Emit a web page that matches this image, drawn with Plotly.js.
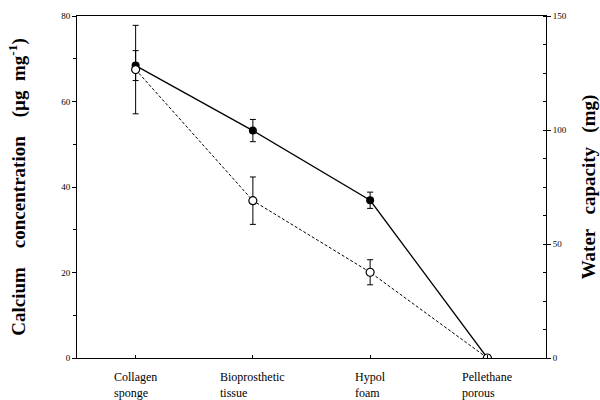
<!DOCTYPE html>
<html><head><meta charset="utf-8">
<script src="https://cdn.plot.ly/plotly-3.0.1.min.js"></script>
<style>body{margin:0;background:#fff}#c{width:600px;height:400px}</style>
</head><body><div id="c"></div>
<script>
const categories = ["Collagen<br>sponge", "Bioprosthetic<br>tissue", "Hypol<br>foam", "Pellethane<br>porous"];
const calcium = [68.4, 53.2, 36.9, 0];
const calciumErr = [3.5, 2.6, 1.9, 0];
const water = [126.5, 69.0, 37.6, 0];
const waterErr = [19.4, 10.4, 5.5, 0];
const leftTicks = [0, 20, 40, 60, 80];
const rightTicks = [0, 50, 100, 150];

const xi = categories.map((_, i) => i);
const serif = "Liberation Serif";

const traces = [
  {x: xi, y: calcium, yaxis: 'y', type: 'scatter', mode: 'lines+markers',
   line: {color: '#000', width: 1.3},
   marker: {symbol: 'circle', size: 8, color: '#000'},
   error_y: {type: 'data', array: calciumErr, visible: true, color: '#000', thickness: 1, width: 3}},
  {x: xi, y: water, yaxis: 'y2', type: 'scatter', mode: 'lines+markers',
   line: {color: '#000', width: 1, dash: '3px,2px'},
   marker: {symbol: 'circle', size: 8, color: '#fff', line: {color: '#000', width: 1.2}},
   error_y: {type: 'data', array: waterErr, visible: true, color: '#000', thickness: 1, width: 3}}
];

const annotations = categories.map((c, i) => ({
  x: i, y: 0, xref: 'x', yref: 'paper', yanchor: 'top', xanchor: 'center',
  yshift: -10, text: c, showarrow: false, align: 'left',
  font: {family: serif, size: 12, color: '#000'}
}));

const layout = {
  width: 600, height: 400,
  margin: {l: 77, r: 54, t: 16, b: 42},
  paper_bgcolor: '#fff', plot_bgcolor: '#fff',
  showlegend: false,
  font: {family: serif, color: '#000'},
  xaxis: {range: [-0.5, 3.5], tickvals: xi, showticklabels: false,
    ticks: 'inside', ticklen: 3, tickcolor: '#000', showgrid: false, zeroline: false,
    showline: true, linecolor: '#000', linewidth: 1, mirror: true},
  yaxis: {range: [0, 80], tickvals: leftTicks, ticktext: leftTicks.map(String),
    ticks: 'outside', ticklen: 4, tickcolor: '#000', showgrid: false, zeroline: false,
    showline: true, linecolor: '#000', linewidth: 1,
    minor: {dtick: 10, ticks: 'outside', ticklen: 3, tickcolor: '#000'},
    tickfont: {family: serif, size: 9, color: '#000'},
    title: {text: 'Calcium\u00a0\u00a0\u00a0 concentration\u00a0\u00a0\u00a0 (\u00b5g\u00a0 mg<sup>-1</sup>)',
      font: {family: serif, size: 19, color: '#000', weight: 'bold'}, standoff: 30}},
  yaxis2: {range: [0, 150], tickvals: rightTicks, ticktext: rightTicks.map(String),
    overlaying: 'y', side: 'right',
    ticks: 'outside', ticklen: 4, tickcolor: '#000', showgrid: false, zeroline: false,
    showline: true, linecolor: '#000', linewidth: 1,
    minor: {dtick: 12.5, ticks: 'inside', ticklen: 3, tickcolor: '#000'},
    tickfont: {family: serif, size: 9, color: '#000'},
    title: {text: 'Water\u00a0\u00a0 capacity\u00a0\u00a0 (mg)',
      font: {family: serif, size: 19, color: '#000', weight: 'bold'}, standoff: 20}},
  annotations: annotations
};

Plotly.newPlot('c', traces, layout, {displayModeBar: false, staticPlot: true});
</script>
</body></html>
